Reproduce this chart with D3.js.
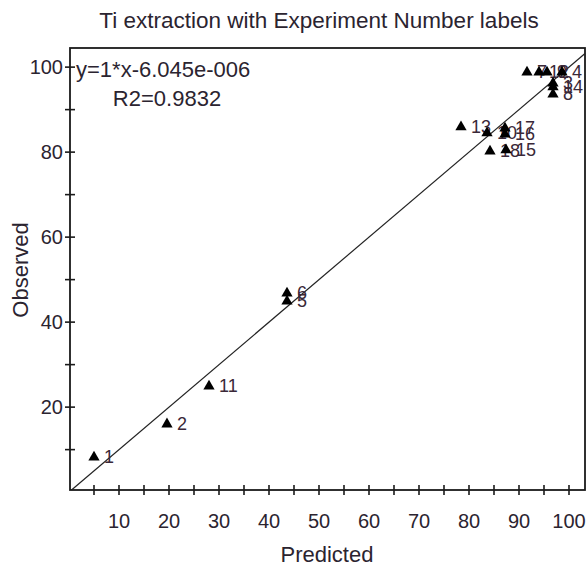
<!DOCTYPE html>
<html>
<head>
<meta charset="utf-8">
<script src="https://cdn.jsdelivr.net/npm/d3@7"></script>
<style>
  html, body { margin: 0; padding: 0; background: #fff; }
  svg { display: block; font-family: Arial, "Liberation Sans", sans-serif; }
</style>
</head>
<body>
<svg id="chart" width="587" height="568"></svg>
<script>
// Experiment numbers with predicted and observed Ti extraction (%)
const experiments = [1, 2, 11, 5, 6, 13, 10, 18, 17, 16, 15, 7, 12, 9, 4, 3, 14, 8];
const predicted   = [5.0, 19.6, 28.0, 43.6, 43.6, 78.4, 83.6, 84.2, 87.2, 87.2, 87.4, 91.6, 94.0, 95.6, 98.6, 96.8, 96.8, 96.8];
const observed    = [8.2, 16.0, 24.9, 44.9, 46.8, 85.9, 84.5, 80.2, 85.6, 84.2, 80.5, 98.8, 98.8, 98.8, 98.8, 96.2, 95.3, 93.6];

const xTicks = d3.range(5, 101, 5);
const xTickLabels = [10, 20, 30, 40, 50, 60, 70, 80, 90, 100];
const yTicks = d3.range(10, 101, 10);
const yTickLabels = [20, 40, 60, 80, 100];

const fitText = ["y=1*x-6.045e-006", "R2=0.9832"];

const svg = d3.select("#chart");
const plotL = 70, plotR = 585, plotT = 48, plotB = 490;

const x = d3.scaleLinear().domain([0.2, 103.2]).range([plotL, plotR]);
const y = d3.scaleLinear().domain([0.5, 104.5]).range([plotB, plotT]);

const ink = "#1a1a1a";
const textInk = "#2b2430";

// title
svg.append("text")
  .attr("x", 319).attr("y", 28)
  .attr("text-anchor", "middle")
  .attr("font-size", 22.5).attr("fill", textInk)
  .text("Ti extraction with Experiment Number labels");

// plot frame
svg.append("rect")
  .attr("x", plotL).attr("y", plotT)
  .attr("width", plotR - plotL).attr("height", plotB - plotT)
  .attr("fill", "none").attr("stroke", ink).attr("stroke-width", 1.8);

// x axis: ticks crossing the frame line
const xAxis = svg.append("g").attr("transform", `translate(0,${plotB})`);
xAxis.selectAll("line").data(xTicks).join("line")
  .attr("x1", d => x(d)).attr("x2", d => x(d))
  .attr("y1", -5).attr("y2", 5)
  .attr("stroke", ink).attr("stroke-width", 1.6);
xAxis.selectAll("text").data(xTickLabels).join("text")
  .attr("x", d => x(d)).attr("y", 38)
  .attr("text-anchor", "middle")
  .attr("font-size", 20).attr("fill", textInk)
  .text(d => d);

// y axis
const yAxis = svg.append("g").attr("transform", `translate(${plotL},0)`);
yAxis.selectAll("line").data(yTicks).join("line")
  .attr("y1", d => y(d)).attr("y2", d => y(d))
  .attr("x1", -5).attr("x2", 5)
  .attr("stroke", ink).attr("stroke-width", 1.6);
yAxis.selectAll("text").data(yTickLabels).join("text")
  .attr("x", -7).attr("y", d => y(d) + 7)
  .attr("text-anchor", "end")
  .attr("font-size", 20).attr("fill", textInk)
  .text(d => d);

// axis titles
svg.append("text")
  .attr("x", 327).attr("y", 562)
  .attr("text-anchor", "middle")
  .attr("font-size", 22).attr("fill", textInk)
  .text("Predicted");
svg.append("text")
  .attr("transform", `translate(28,${270}) rotate(-90)`)
  .attr("text-anchor", "middle")
  .attr("font-size", 22).attr("fill", textInk)
  .text("Observed");

// fitted line y = x across the plotting area
const lo = Math.max(x.domain()[0], y.domain()[0]);
const hi = Math.min(x.domain()[1], y.domain()[1]);
svg.append("line")
  .attr("x1", x(lo)).attr("y1", y(lo))
  .attr("x2", x(hi)).attr("y2", y(hi))
  .attr("stroke", "#222").attr("stroke-width", 1.2);

// regression summary
svg.append("text")
  .attr("x", 76).attr("y", 77)
  .attr("font-size", 22).attr("fill", textInk)
  .text(fitText[0]);
svg.append("text")
  .attr("x", 167).attr("y", 106)
  .attr("text-anchor", "middle")
  .attr("font-size", 22).attr("fill", textInk)
  .text(fitText[1]);

const pts = experiments.map((e, i) => ({ e, p: predicted[i], o: observed[i] }));

// experiment number labels (markers are drawn over them)
svg.append("g").selectAll("text").data(pts).join("text")
  .attr("x", d => x(d.p) + 10)
  .attr("y", d => y(d.o) + 6)
  .attr("font-size", 18).attr("fill", "#3a2838")
  .text(d => d.e);

// triangle markers
const tri = d3.symbol().type(d3.symbolTriangle).size(55);
svg.append("g").selectAll("path").data(pts).join("path")
  .attr("transform", d => `translate(${x(d.p)},${y(d.o)})`)
  .attr("d", tri)
  .attr("fill", "#000");
</script>
</body>
</html>
